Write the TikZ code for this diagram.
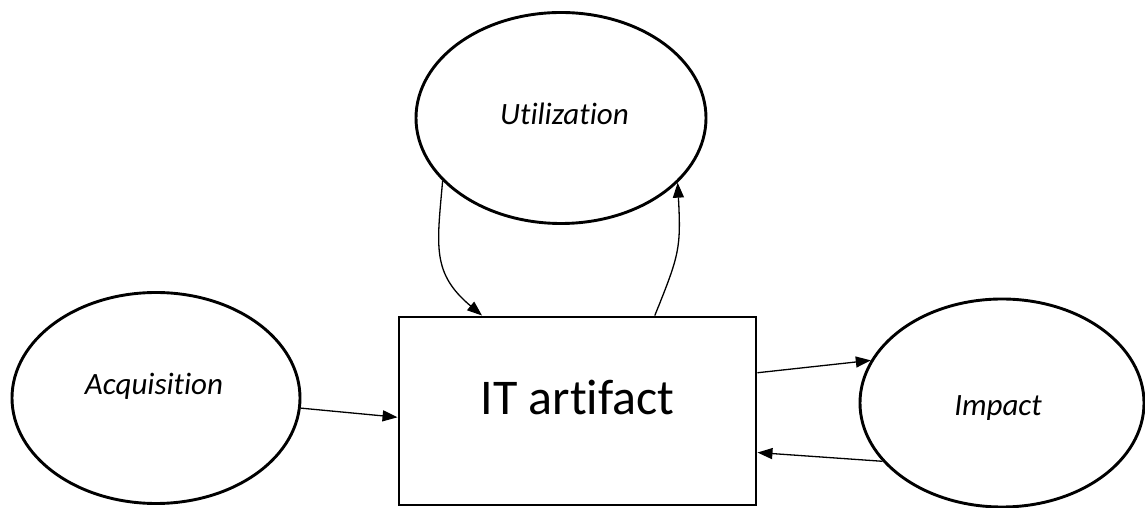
\documentclass[tikz,border=0pt]{standalone}
\usepackage{fontspec}
\setmainfont{Carlito}[Ligatures=NoCommon]
\usetikzlibrary{shapes.geometric,arrows.meta}
\begin{document}
\begin{tikzpicture}[x=1pt,y=1pt,
  phase/.style={draw, ellipse, line width=2.9pt, inner sep=0pt},
  artbox/.style={draw, rectangle, line width=2.9pt, inner sep=0pt,
    minimum width=357pt, minimum height=188pt},
  flow/.style={line width=1.3pt, -{Triangle[length=15pt,width=11pt]}},
  tag/.style={font=\fontsize{31}{37}\selectfont\itshape, anchor=base, inner sep=0pt},
  bigtag/.style={font=\fontsize{50}{60}\selectfont, anchor=base, inner sep=0pt}]
\useasboundingbox (0,0) rectangle (1145,508);

% the four stages
\node[phase, minimum width=290pt, minimum height=211pt,
  label={[tag, xshift=3.5pt, yshift=4pt]center:Utilization}] (util) at (561,390) {};
\node[phase, minimum width=288pt, minimum height=211pt,
  label={[tag, xshift=-2pt, yshift=12pt]center:Acquisition}] (acq) at (156,110) {};
\node[phase, minimum width=284pt, minimum height=208pt,
  label={[tag, xshift=-4pt, yshift=-5pt]center:Impact}] (imp) at (1002,105) {};
\node[artbox, label={[bigtag, yshift=14pt]center:IT artifact}] (art) at (577.5,97) {};

% flows between the stages
\draw[flow] (acq.-4) -- (art.182.2);
\draw[flow] (art.12) -- (imp.162.9);
\draw[flow] (imp.206.2) -- (art.-13.2);
\draw[flow] (util.208.5) to[out=265, in=140, looseness=1.2] (art.135.5);
\draw[flow] (art.51.2) to[out=68, in=-87, looseness=1.25] (util.-29.5);
\end{tikzpicture}
\end{document}
